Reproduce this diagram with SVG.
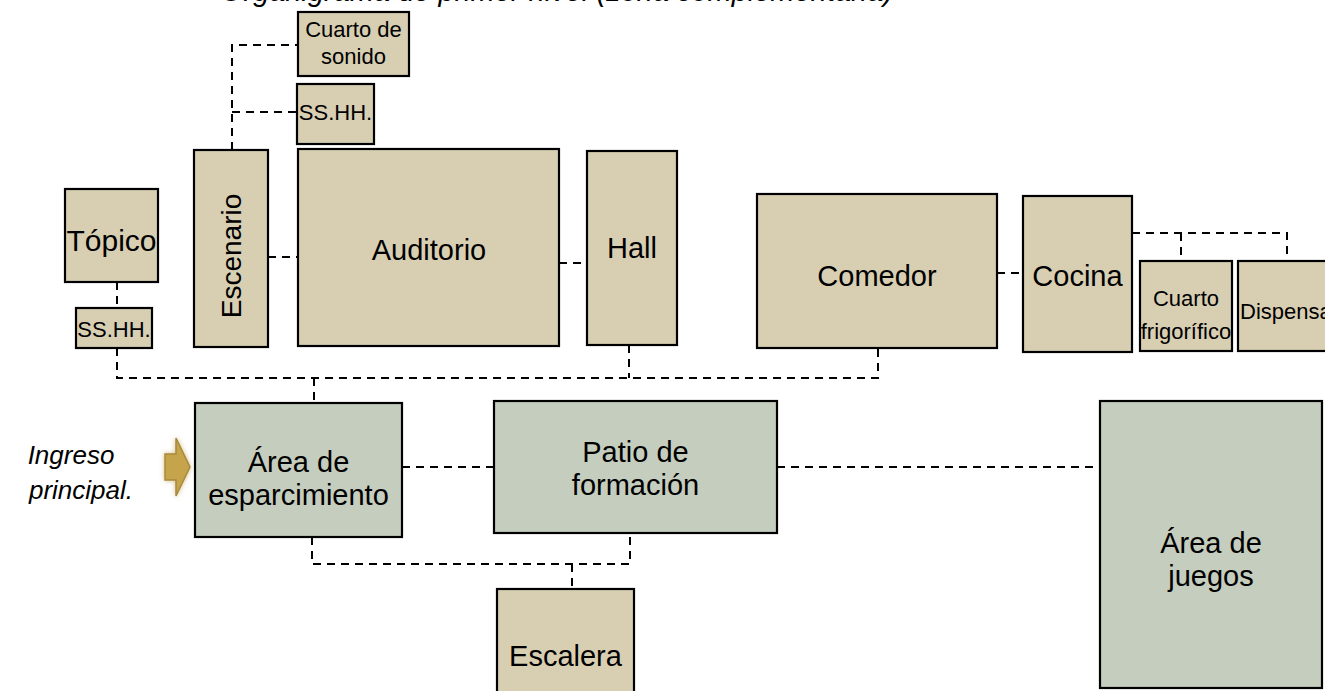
<svg xmlns="http://www.w3.org/2000/svg" width="1325" height="691" viewBox="0 0 1325 691">
<defs>
<style>
.t{fill:#D8CFB3;stroke:#000;stroke-width:2.2}
.g{fill:#C5CDBE;stroke:#000;stroke-width:2.2}
.lbl{font-family:"Liberation Sans",Arial,sans-serif;fill:#000;text-anchor:middle}
.c{fill:none;stroke:#000;stroke-width:2;stroke-dasharray:8 6}
.it{font-family:"Liberation Sans",Arial,sans-serif;font-style:italic;fill:#000;text-anchor:middle}
</style>
<filter id="glow" x="-50%" y="-50%" width="200%" height="200%">
<feGaussianBlur in="SourceAlpha" stdDeviation="2.5" result="b"/>
<feFlood flood-color="#C9B070" flood-opacity="0.8"/>
<feComposite in2="b" operator="in" result="gl"/>
<feMerge><feMergeNode in="gl"/><feMergeNode in="SourceGraphic"/></feMerge>
</filter>
</defs>
<rect width="1325" height="691" fill="#fff"/>
<text class="it" x="557" y="1" font-size="29">Organigrama de primer nivel (zona complementaria)</text>

<g id="connectors">
<path class="c" d="M232,150 V45 H298 M232,112 H297"/>
<path class="c" d="M268,257 H298"/>
<path class="c" d="M559,263 H587"/>
<path class="c" d="M117,282 V308"/>
<path class="c" d="M997,273 H1023"/>
<path class="c" d="M1132,233 H1287 V261 M1181,233 V261"/>
<path class="c" d="M117,348 V378 H878 V348 M629,345 V378 M314,378 V403"/>
<path class="c" d="M402,467 H494"/>
<path class="c" d="M777,467 H1100"/>
<path class="c" d="M312,537 V564 H630 V533 M572,564 V589"/>
</g>

<g id="cuarto-sonido"><rect class="t" x="298" y="12" width="111" height="64"/>
<text class="lbl" font-size="22"><tspan x="353.5" y="37">Cuarto de</tspan><tspan x="353.5" y="64">sonido</tspan></text></g>
<g id="sshh-top"><rect class="t" x="297" y="84" width="77" height="60"/>
<text class="lbl" x="335.5" y="120" font-size="22">SS.HH.</text></g>
<g id="escenario"><rect class="t" x="194" y="150" width="74" height="197"/>
<text class="lbl" font-size="28" transform="translate(241,256) rotate(-90)" x="0" y="0">Escenario</text></g>
<g id="auditorio"><rect class="t" x="298" y="149" width="261" height="197"/>
<text class="lbl" x="429" y="260" font-size="29">Auditorio</text></g>
<g id="hall"><rect class="t" x="587" y="151" width="90" height="194"/>
<text class="lbl" x="632" y="258" font-size="29">Hall</text></g>
<g id="topico"><rect class="t" x="65" y="189" width="93" height="93"/>
<text class="lbl" x="111.5" y="251" font-size="30">Tópico</text></g>
<g id="sshh-left"><rect class="t" x="76" y="308" width="76" height="40"/>
<text class="lbl" x="114" y="337" font-size="22">SS.HH.</text></g>
<g id="comedor"><rect class="t" x="757" y="194" width="240" height="154"/>
<text class="lbl" x="877" y="286" font-size="29">Comedor</text></g>
<g id="cocina"><rect class="t" x="1023" y="196" width="109" height="156"/>
<text class="lbl" x="1077.5" y="286" font-size="29">Cocina</text></g>
<g id="cuarto-frigorifico"><rect class="t" x="1140" y="261" width="92" height="90"/>
<text class="lbl" font-size="22"><tspan x="1186" y="306">Cuarto</tspan><tspan x="1186" y="339">frigorífico</tspan></text></g>
<g id="dispensa"><rect class="t" x="1238" y="261" width="95" height="90"/>
<text class="lbl" x="1240" y="319" font-size="22" style="text-anchor:start">Dispensa</text></g>
<g id="area-esparcimiento"><rect class="g" x="195" y="403" width="207" height="134"/>
<text class="lbl" font-size="29"><tspan x="298.5" y="472">Área de</tspan><tspan x="298.5" y="505">esparcimiento</tspan></text></g>
<g id="patio-formacion"><rect class="g" x="494" y="401" width="283" height="132"/>
<text class="lbl" font-size="29"><tspan x="635.5" y="462">Patio de</tspan><tspan x="635.5" y="495">formación</tspan></text></g>
<g id="area-juegos"><rect class="g" x="1100" y="401" width="222" height="287"/>
<text class="lbl" font-size="29"><tspan x="1211" y="553">Área de</tspan><tspan x="1211" y="586">juegos</tspan></text></g>
<g id="escalera"><rect class="t" x="497" y="589" width="137" height="110"/>
<text class="lbl" x="565.5" y="666" font-size="29">Escalera</text></g>
<g id="ingreso">
<text class="it" font-size="26"><tspan x="71" y="464">Ingreso</tspan><tspan x="81" y="499">principal.</tspan></text>
<path d="M165,454 H176 V438 L190,467 L176,496 V480 H165 Z" fill="#C6A44C" stroke="#A88A3A" stroke-width="1.5" filter="url(#glow)"/>
</g>
</svg>
